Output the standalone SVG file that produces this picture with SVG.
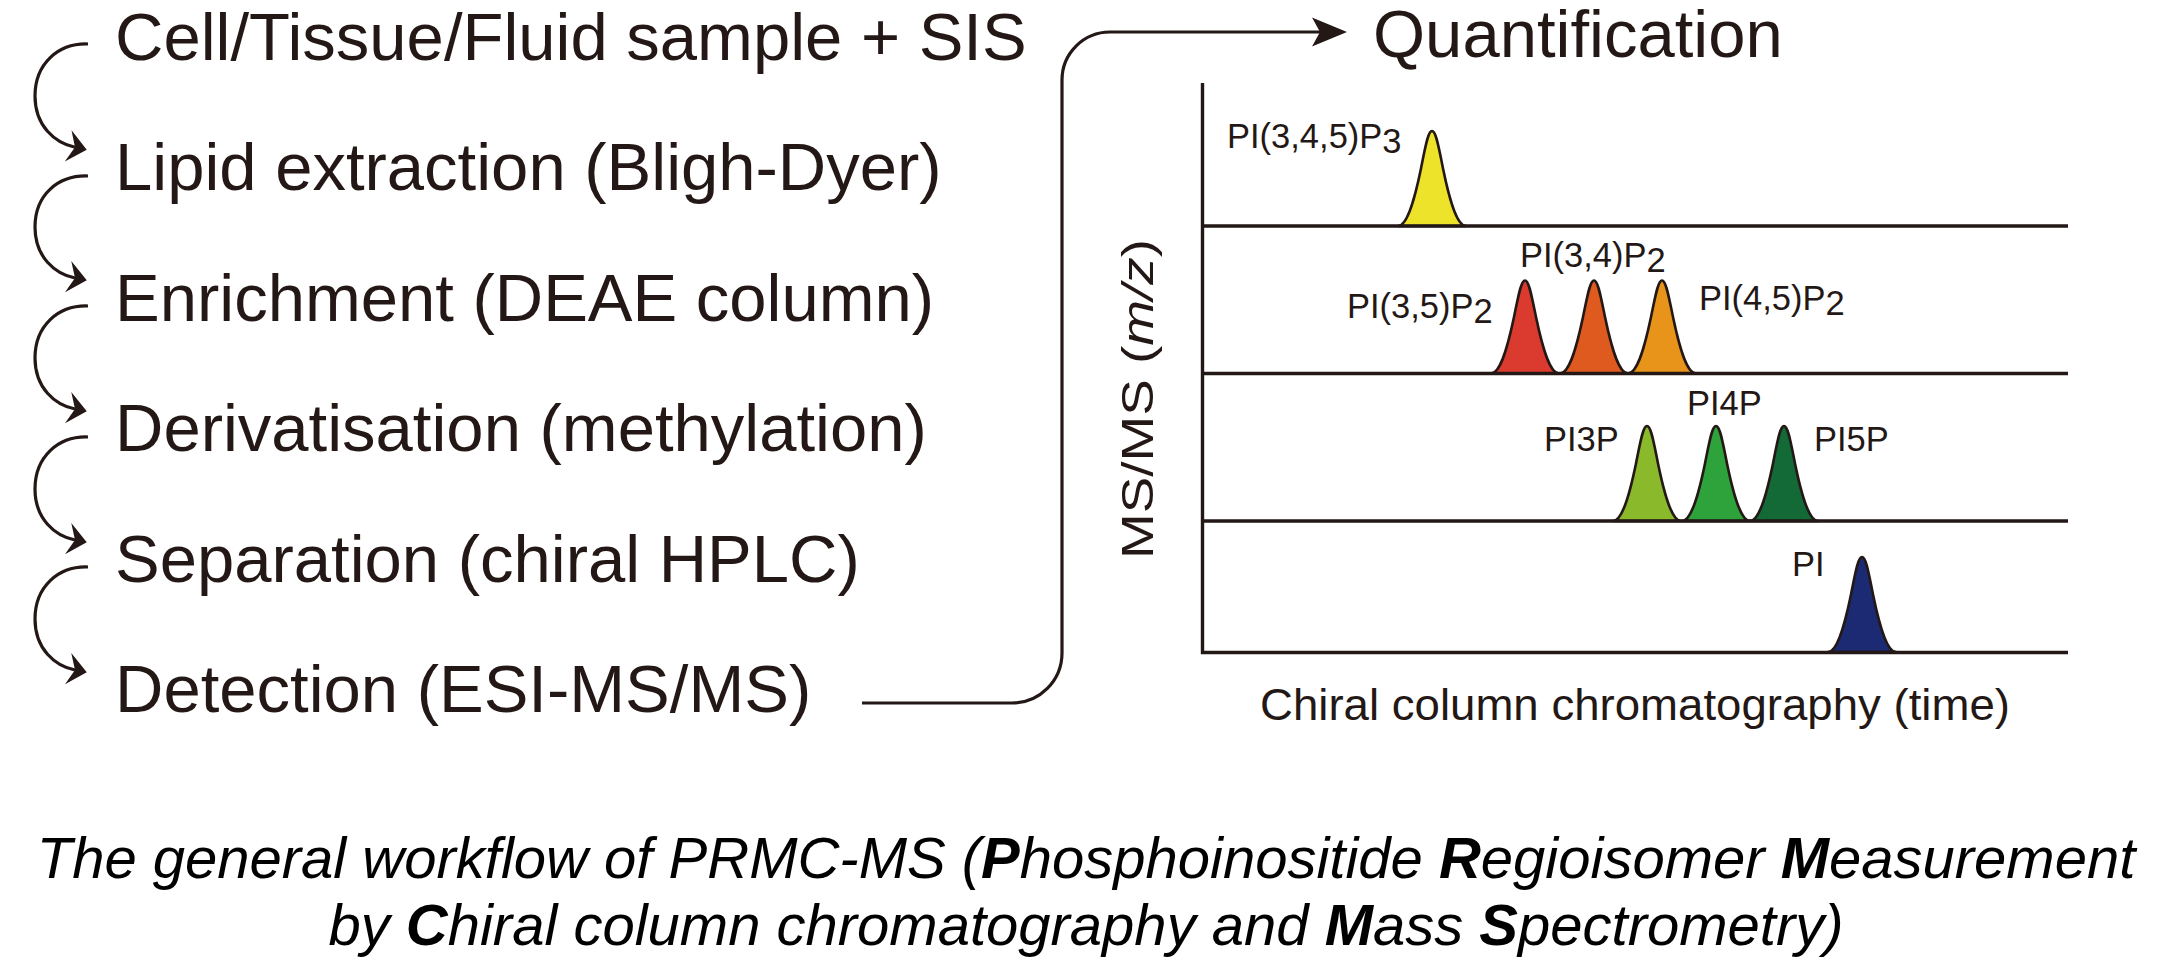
<svg xmlns="http://www.w3.org/2000/svg" xmlns:xlink="http://www.w3.org/1999/xlink" width="2169" height="967" viewBox="0 0 2169 967">
<style>
  .step{font-family:"Liberation Sans",Arial,sans-serif;font-size:67px;fill:#231815}
  .lab{font-family:"Liberation Sans",Arial,sans-serif;font-size:34.5px;fill:#231815}
  .axl{font-family:"Liberation Sans",Arial,sans-serif;font-size:45px;fill:#231815}
  .cap{font-family:"Liberation Sans",Arial,sans-serif;font-size:58px;font-style:italic;fill:#000}
  .b{font-weight:bold}
  .conn{fill:none;stroke:#231815;stroke-width:3.2}
  .axis{fill:none;stroke:#231815;stroke-width:3.4}
  .pk{stroke:#231815;stroke-width:2.6;stroke-linejoin:round}
</style>
<defs>
  <marker id="arrS" markerUnits="userSpaceOnUse" markerWidth="40" markerHeight="40" refX="0" refY="0" viewBox="-10 -20 30 40" orient="auto">
    <path d="M12,0 L-7,-16 L0,0 L-7,16 Z" fill="#231815"/>
  </marker>
  <marker id="arrL" markerUnits="userSpaceOnUse" markerWidth="50" markerHeight="40" refX="0" refY="0" viewBox="-10 -20 50 40" orient="auto">
    <path d="M27,0 L-8,-14.5 L0,0 L-8,14.5 Z" fill="#231815"/>
  </marker>
  <path id="peak" d="M-34,0 C-24,0 -16.5,-31 -11,-57.6 C-6.5,-80 -4,-95 0,-95 C4,-95 6.5,-80 11,-57.6 C16.5,-31 24,0 34,0 Z"/>
</defs>
<rect width="2169" height="967" fill="#fff"/>

<g id="step1"><text class="step" x="115" y="60">Cell/Tissue/Fluid sample + SIS</text></g>
<g id="step2"><text class="step" x="115" y="190.4">Lipid extraction (Bligh-Dyer)</text></g>
<g id="step3"><text class="step" x="115" y="320.8">Enrichment (DEAE column)</text></g>
<g id="step4"><text class="step" x="115" y="451.2">Derivatisation (methylation)</text></g>
<g id="step5"><text class="step" x="115" y="581.6">Separation (chiral HPLC)</text></g>
<g id="step6"><text class="step" x="115" y="712">Detection (ESI-MS/MS)</text></g>
<g id="quant"><text class="step" x="1373" y="57">Quantification</text></g>

<g id="connectors">
  <path class="conn" marker-end="url(#arrS)" d="M88,44 C58,43 35,64 35,96 C35,126 55,143 75,147.3"/>
  <path class="conn" marker-end="url(#arrS)" d="M88,176 C58,175 35,195 35,227 C35,257 55,274 75,278"/>
  <path class="conn" marker-end="url(#arrS)" d="M88,306 C58,305 35,326 35,358 C35,388 55,405 75,409"/>
  <path class="conn" marker-end="url(#arrS)" d="M88,437 C58,436 35,457 35,489 C35,519 55,536 75,540"/>
  <path class="conn" marker-end="url(#arrS)" d="M88,567 C58,566 35,587 35,619 C35,649 55,666 75,670"/>
  <path class="conn" marker-end="url(#arrL)" d="M862,703 H1012 A50,50 0 0 0 1062,653 V80 A48,48 0 0 1 1110,32 H1320"/>
</g>

<g id="chart">
  <g id="peaks">
    <use xlink:href="#peak" class="pk" x="1432" y="226" fill="#ECE32A"/>
    <use xlink:href="#peak" class="pk" transform="translate(1525,373.5) scale(1,0.98)" fill="#DB3A2E"/>
    <use xlink:href="#peak" class="pk" transform="translate(1594,373.5) scale(1,0.98)" fill="#DE5A1E"/>
    <use xlink:href="#peak" class="pk" transform="translate(1662,373.5) scale(1,0.98)" fill="#E8931A"/>
    <use xlink:href="#peak" class="pk" x="1647" y="521" fill="#8AB92C"/>
    <use xlink:href="#peak" class="pk" x="1716" y="521" fill="#2EA23B"/>
    <use xlink:href="#peak" class="pk" x="1784" y="521" fill="#136A37"/>
    <use xlink:href="#peak" class="pk" x="1862" y="652" fill="#1C2A74"/>
  </g>
  <g id="axes">
    <path class="axis" d="M1202.5,83 V654"/>
    <path class="axis" d="M1201,226 H2068 M1201,373.5 H2068 M1201,521 H2068 M1201,652.5 H2068"/>
  </g>
  <g id="labels">
    <text class="lab" x="1227" y="148">PI(3,4,5)P<tspan dy="5">3</tspan></text>
    <text class="lab" x="1520" y="266.7">PI(3,4)P<tspan dy="5">2</tspan></text>
    <text class="lab" x="1347" y="318">PI(3,5)P<tspan dy="5">2</tspan></text>
    <text class="lab" x="1699" y="310">PI(4,5)P<tspan dy="5">2</tspan></text>
    <text class="lab" x="1544" y="451">PI3P</text>
    <text class="lab" x="1687" y="415">PI4P</text>
    <text class="lab" x="1814" y="451">PI5P</text>
    <text class="lab" x="1792" y="576">PI</text>
  </g>
  <g id="ylabel"><text class="axl" text-anchor="middle" textLength="320" lengthAdjust="spacingAndGlyphs" transform="translate(1153,399) rotate(-90)">MS/MS (<tspan font-style="italic">m/z</tspan>)</text></g>
  <g id="xlabel"><text class="axl" x="1260" y="720" textLength="750" lengthAdjust="spacingAndGlyphs">Chiral column chromatography (time)</text></g>
</g>

<g id="caption">
  <text class="cap" x="1086" y="878" text-anchor="middle">The general workflow of PRMC-MS (<tspan class="b">P</tspan>hosphoinositide <tspan class="b">R</tspan>egioisomer <tspan class="b">M</tspan>easurement</text>
  <text class="cap" x="1086" y="945" text-anchor="middle">by <tspan class="b">C</tspan>hiral column chromatography and <tspan class="b">M</tspan>ass <tspan class="b">S</tspan>pectrometry)</text>
</g>
</svg>
